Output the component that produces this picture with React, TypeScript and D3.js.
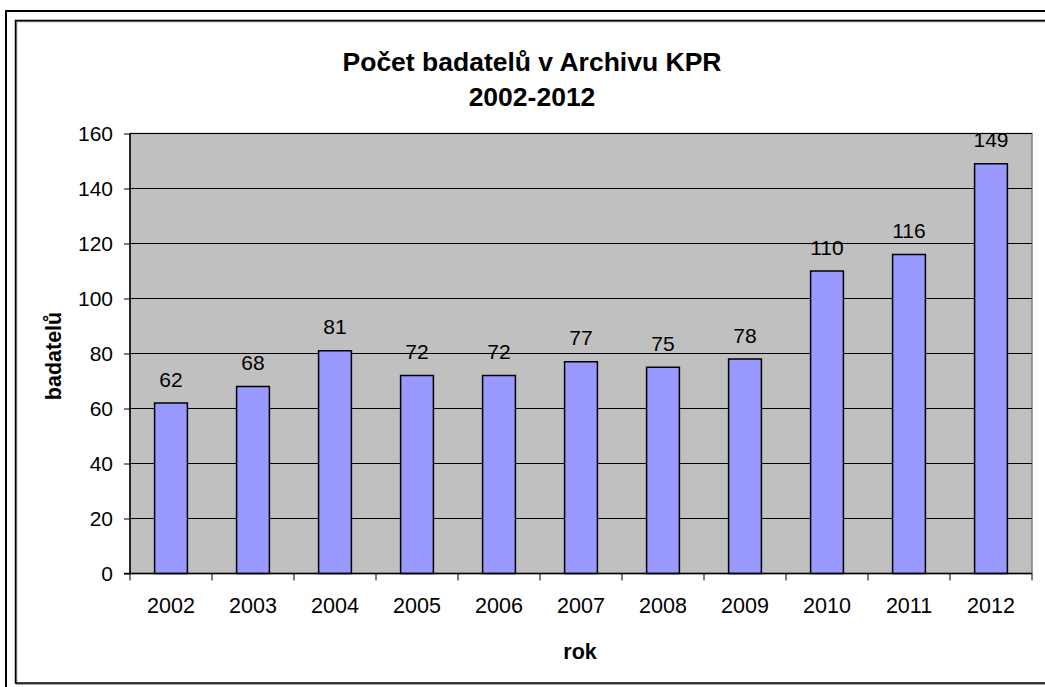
import React, { useRef, useEffect } from 'react';
import * as d3 from 'd3';

const years = ['2002', '2003', '2004', '2005', '2006', '2007', '2008', '2009', '2010', '2011', '2012'];
const counts = [62, 68, 81, 72, 72, 77, 75, 78, 110, 116, 149];
const yTicks = [0, 20, 40, 60, 80, 100, 120, 140, 160];

const width = 1045;
const height = 687;
const plot = { left: 130, top: 133.5, right: 1032, bottom: 573.5 };
const font = 'Liberation Sans, Arial, sans-serif';

const App = () => {
  const chartRef = useRef<SVGSVGElement>(null);

  useEffect(() => {
    const svg = d3.select(chartRef.current);
    svg.selectAll('*').remove();

    // frames
    svg.append('rect').attr('width', width).attr('height', height).attr('fill', '#fff');
    svg
      .append('rect')
      .attr('x', 6)
      .attr('y', 11)
      .attr('width', width + 20)
      .attr('height', height + 20)
      .attr('fill', 'none')
      .attr('stroke', '#000')
      .attr('stroke-width', 2);
    svg
      .append('rect')
      .attr('x', 16.5)
      .attr('y', 21.5)
      .attr('width', width)
      .attr('height', 662.5)
      .attr('fill', 'none')
      .attr('stroke', '#888')
      .attr('stroke-width', 1.5);
    svg
      .append('rect')
      .attr('x', 15.5)
      .attr('y', 20.5)
      .attr('width', width)
      .attr('height', 662.5)
      .attr('fill', 'none')
      .attr('stroke', '#000')
      .attr('stroke-width', 1.5);

    // scales
    const xScale = d3.scaleBand().domain(years).range([plot.left, plot.right]).paddingInner(0.6).paddingOuter(0.3);
    const band = d3.scaleBand().domain(years).range([plot.left, plot.right]);
    const yScale = d3.scaleLinear().domain([0, 160]).range([plot.bottom, plot.top]);

    // plot area
    svg
      .append('rect')
      .attr('x', plot.left)
      .attr('y', plot.top)
      .attr('width', plot.right - plot.left)
      .attr('height', plot.bottom - plot.top)
      .attr('fill', '#c0c0c0')
      .attr('stroke', '#808080')
      .attr('stroke-width', 1.5);

    // gridlines
    svg
      .append('g')
      .selectAll('line')
      .data(yTicks.filter((t) => t > 0))
      .enter()
      .append('line')
      .attr('x1', plot.left)
      .attr('x2', plot.right)
      .attr('y1', (d) => yScale(d))
      .attr('y2', (d) => yScale(d))
      .attr('stroke', '#000')
      .attr('stroke-width', 1);

    // bars
    svg
      .append('g')
      .selectAll('rect')
      .data(counts)
      .enter()
      .append('rect')
      .attr('x', (d, i) => xScale(years[i]) as number)
      .attr('y', (d) => yScale(d))
      .attr('width', xScale.bandwidth())
      .attr('height', (d) => plot.bottom - yScale(d))
      .attr('fill', '#9999ff')
      .attr('stroke', '#000')
      .attr('stroke-width', 1.5);

    // value labels
    svg
      .append('g')
      .selectAll('text')
      .data(counts)
      .enter()
      .append('text')
      .attr('x', (d, i) => (xScale(years[i]) as number) + xScale.bandwidth() / 2)
      .attr('y', (d) => yScale(d) - 16.5)
      .attr('text-anchor', 'middle')
      .attr('font-family', font)
      .attr('font-size', 21)
      .text((d) => d);

    // y axis
    const yAxis = svg
      .append('g')
      .attr('transform', `translate(${plot.left}, 0)`)
      .call(d3.axisLeft(yScale).tickValues(yTicks).tickSize(6).tickPadding(11));
    yAxis.select('.domain').attr('stroke', '#000').attr('stroke-width', 1.5).attr('d', `M0,${plot.top}V${plot.bottom}`);
    yAxis.selectAll('.tick line').attr('stroke', '#000');
    yAxis.selectAll('.tick text').attr('font-family', font).attr('font-size', 21).attr('fill', '#000');

    // x axis
    const xAxis = svg.append('g').attr('transform', `translate(0, ${plot.bottom})`);
    xAxis
      .append('line')
      .attr('x1', plot.left - 6)
      .attr('x2', plot.right)
      .attr('stroke', '#000')
      .attr('stroke-width', 1.5);
    xAxis
      .selectAll('.sep')
      .data([...years, 'end'])
      .enter()
      .append('line')
      .attr('x1', (d, i) => plot.left + i * band.bandwidth())
      .attr('x2', (d, i) => plot.left + i * band.bandwidth())
      .attr('y1', 0)
      .attr('y2', 7)
      .attr('stroke', '#000');
    xAxis
      .selectAll('text')
      .data(years)
      .enter()
      .append('text')
      .attr('x', (d) => (band(d) as number) + band.bandwidth() / 2)
      .attr('y', 39.5)
      .attr('text-anchor', 'middle')
      .attr('font-family', font)
      .attr('font-size', 21.5)
      .text((d) => d);

    // titles
    svg
      .append('text')
      .attr('x', 532)
      .attr('y', 71)
      .attr('text-anchor', 'middle')
      .attr('font-family', font)
      .attr('font-weight', 'bold')
      .attr('font-size', 26.5)
      .text('Počet badatelů v Archivu KPR');
    svg
      .append('text')
      .attr('x', 532)
      .attr('y', 106)
      .attr('text-anchor', 'middle')
      .attr('font-family', font)
      .attr('font-weight', 'bold')
      .attr('font-size', 26.5)
      .text('2002-2012');

    svg
      .append('text')
      .attr('x', 580)
      .attr('y', 659)
      .attr('text-anchor', 'middle')
      .attr('font-family', font)
      .attr('font-weight', 'bold')
      .attr('font-size', 21.5)
      .text('rok');

    svg
      .append('text')
      .attr('transform', `translate(61, 356) rotate(-90)`)
      .attr('text-anchor', 'middle')
      .attr('font-family', font)
      .attr('font-weight', 'bold')
      .attr('font-size', 21.5)
      .text('badatelů');
  }, []);

  return (
    <div style={{ position: 'absolute', left: 0, top: 0 }}>
      <svg ref={chartRef} width={width} height={height} style={{ display: 'block' }}></svg>
    </div>
  );
};

export default App;
